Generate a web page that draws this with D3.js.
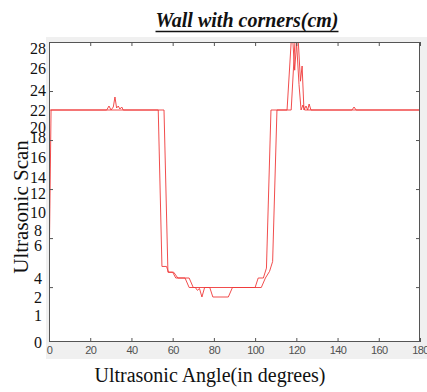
<!DOCTYPE html>
<html>
<head>
<meta charset="utf-8">
<script src="https://cdn.jsdelivr.net/npm/d3@7"></script>
<style>
  body { margin: 0; background: #fff; }
</style>
</head>
<body>
<svg id="chart" width="427" height="392"></svg>
<script>
// tick labels
const xTicks = [0, 20, 40, 60, 80, 100, 120, 140, 160, 180];
const yLabels = [0, 1, 2, 4, 6, 8, 10, 12, 14, 16, 18, 20, 22, 24, 26, 28];
const innerTicks = [50, 100, 150, 200, 250];

// scan 1 (drops first)
const scan1Angle = [0, 1, 28, 29.1, 30.1, 31.2, 32, 32.8, 33.6, 34.4, 35.3, 36,
  53, 54.8, 57, 58, 60, 61.5, 66, 68, 71, 72, 73, 74.2, 75.5,
  100, 101.5, 104, 105.5, 107.7, 115.5, 117.9, 119.2, 120.6, 122, 122.8, 123.7,
  124.7, 125.5, 126.2, 127.1, 180];
const scan1Value = [3.7, 22, 22, 22.4, 22, 22.3, 23.3, 22.2, 22.4, 22.1, 22.3, 22,
  22, 4.7, 4.7, 4.35, 4.35, 4.0, 4.0, 3.0, 3.0, 2.7, 2.9, 2.0, 3.0,
  3.0, 4.0, 4.0, 4.6, 22, 22, 30, 25.8, 30, 24.8, 26.2, 22,
  22.4, 22, 22.6, 22, 22];

// scan 2 (shifted right)
const scan2Angle = [0, 55.8, 57.7, 60.5, 62.5, 68, 70, 78, 79.5, 87, 89,
  103, 105, 107, 108.5, 110.6, 117.5, 119.7, 121.3, 122.3, 123.2, 124,
  147, 148, 149, 180];
const scan2Value = [22, 22, 4.35, 4.35, 4.0, 4.0, 3.0, 3.0, 2.0, 2.0, 3.0,
  3.0, 4.0, 4.4, 5.0, 22, 22, 30, 24.5, 22, 22.5, 22,
  22, 22.3, 22, 22];

const svg = d3.select("#chart");
const box = { left: 49, right: 420, top: 42, bottom: 342 };

const x = d3.scaleLinear().domain([0, 180]).range([box.left, box.right]);
// the pasted y labels are not evenly spaced, so the scale is piecewise
const y = d3.scaleLinear()
  .domain(yLabels)
  .range([342, 315, 297, 278, 245, 230, 212, 193, 177, 157, 137, 127, 110, 90, 68, 48]);
// the plot's own (unlabelled) tick marks
const yInner = d3.scaleLinear().domain([-6, 300]).range([box.bottom, box.top]);

svg.append("rect").attr("width", 427).attr("height", 392).attr("fill", "#fff");
svg.append("rect")
  .attr("x", 46).attr("y", 37).attr("width", 381).attr("height", 322)
  .attr("fill", "#f0f0f0");
svg.append("rect")
  .attr("x", box.left).attr("y", box.top)
  .attr("width", box.right - box.left).attr("height", box.bottom - box.top)
  .attr("fill", "#fff");

svg.append("clipPath").attr("id", "clip")
  .append("rect")
  .attr("x", box.left).attr("y", box.top)
  .attr("width", box.right - box.left).attr("height", box.bottom - box.top);

// lines
const line = d3.line().x(d => x(d[0])).y(d => y(d[1]));
const scans = [
  d3.zip(scan1Angle, scan1Value),
  d3.zip(scan2Angle, scan2Value)
];
svg.append("g").attr("clip-path", "url(#clip)")
  .selectAll("path")
  .data(scans)
  .join("path")
  .attr("d", line)
  .attr("fill", "none")
  .attr("stroke", "#f03a3a")
  .attr("stroke-width", 1)
  .attr("stroke-opacity", 0.9)
  .attr("stroke-linejoin", "round");

// axes box with inward ticks on all sides
const axColor = "#555";
function styleAxis(g) {
  g.select(".domain").remove();
  g.selectAll(".tick line").attr("stroke", axColor);
}
svg.append("g")
  .attr("transform", `translate(0,${box.bottom})`)
  .call(d3.axisBottom(x).tickValues(xTicks).tickSize(-4).tickPadding(4))
  .call(styleAxis)
  .call(g => g.selectAll(".tick text")
    .attr("fill", "#505050")
    .attr("font-family", "Liberation Sans, Arial, sans-serif")
    .attr("font-size", 11)
    .attr("letter-spacing", -0.6));
svg.append("g")
  .attr("transform", `translate(0,${box.top})`)
  .call(d3.axisTop(x).tickValues(xTicks).tickSize(-4).tickFormat(""))
  .call(styleAxis);
svg.append("g")
  .attr("transform", `translate(${box.left},0)`)
  .call(d3.axisLeft(yInner).tickValues(innerTicks).tickSize(-4).tickFormat(""))
  .call(styleAxis);
svg.append("g")
  .attr("transform", `translate(${box.right},0)`)
  .call(d3.axisRight(yInner).tickValues(innerTicks).tickSize(-4).tickFormat(""))
  .call(styleAxis);

svg.append("rect")
  .attr("x", box.left + 0.5).attr("y", box.top + 0.5)
  .attr("width", box.right - box.left - 1).attr("height", box.bottom - box.top - 1)
  .attr("fill", "none")
  .attr("stroke", axColor)
  .attr("stroke-width", 1);

// y labels (serif, pasted beside the plot)
svg.append("g")
  .selectAll("text")
  .data(yLabels)
  .join("text")
  .attr("x", 38)
  .attr("y", d => y(d))
  .attr("dy", "0.35em")
  .attr("text-anchor", "middle")
  .attr("font-family", "Liberation Serif, Times New Roman, serif")
  .attr("font-size", 16)
  .attr("fill", "#111")
  .text(d => d);

// title
const title = svg.append("text")
  .attr("x", 247).attr("y", 27)
  .attr("text-anchor", "middle")
  .attr("font-family", "Liberation Serif, Times New Roman, serif")
  .attr("font-size", 20)
  .attr("font-weight", "bold")
  .attr("font-style", "italic")
  .attr("fill", "#111")
  .text("Wall with corners(cm)");
const tw = title.node().getComputedTextLength();
svg.append("line")
  .attr("x1", 247 - tw / 2).attr("x2", 247 + tw / 2)
  .attr("y1", 31.5).attr("y2", 31.5)
  .attr("stroke", "#111").attr("stroke-width", 1.6);

// axis titles
svg.append("text")
  .attr("transform", "translate(28,207) rotate(-90)")
  .attr("text-anchor", "middle")
  .attr("font-family", "Liberation Serif, Times New Roman, serif")
  .attr("font-size", 21)
  .attr("fill", "#111")
  .text("Ultrasonic Scan");

svg.append("text")
  .attr("x", 210).attr("y", 382)
  .attr("text-anchor", "middle")
  .attr("font-family", "Liberation Serif, Times New Roman, serif")
  .attr("font-size", 20)
  .attr("fill", "#111")
  .text("Ultrasonic Angle(in degrees)");
</script>
</body>
</html>
